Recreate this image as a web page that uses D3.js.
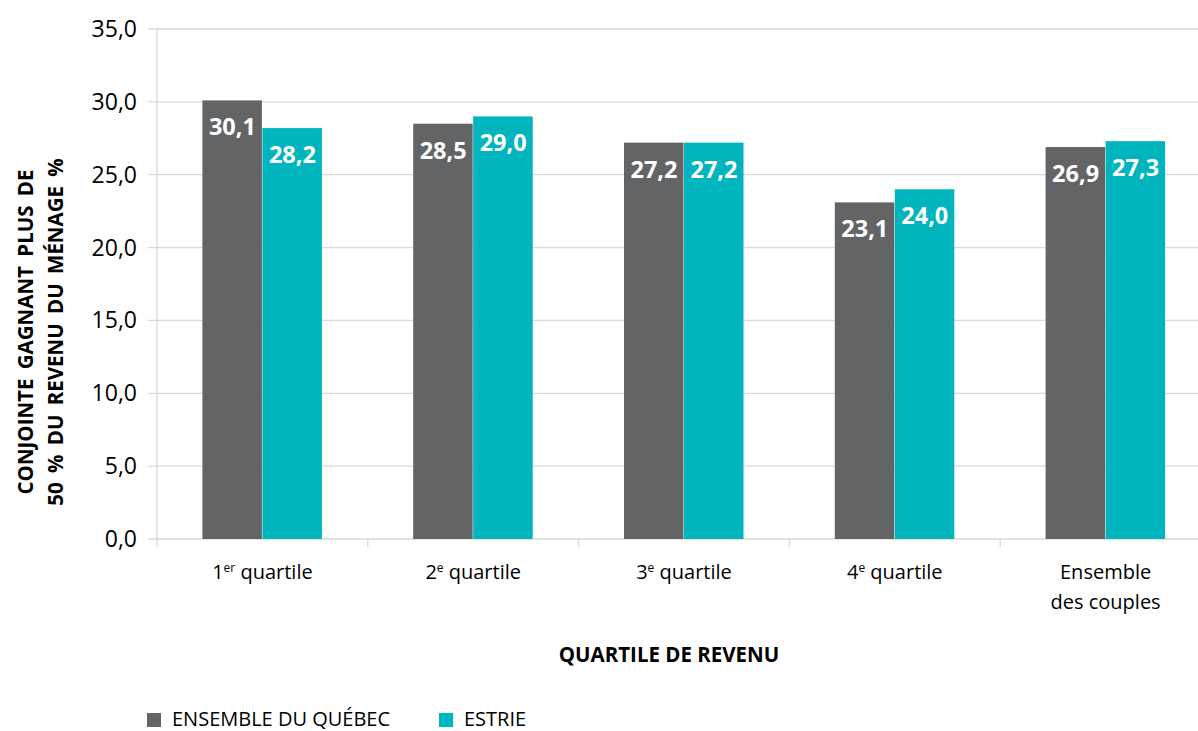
<!DOCTYPE html>
<html>
<head>
<meta charset="utf-8">
<script src="https://cdn.jsdelivr.net/npm/d3@7"></script>
<style>
  body { margin: 0; background: #fff; }
  svg { display: block; font-family: "Open Sans", "Noto Sans", sans-serif; }
</style>
</head>
<body>
<div id="chart"></div>
<script>
// data
const categories = ["q1", "q2", "q3", "q4", "all"];
const categoryLabels = [
  ["1", "er", " quartile"],
  ["2", "e", " quartile"],
  ["3", "e", " quartile"],
  ["4", "e", " quartile"],
  ["Ensemble", "des couples"]
];
const seriesNames = ["ENSEMBLE DU QUÉBEC", "ESTRIE"];
const quebecValues = [30.1, 28.5, 27.2, 23.1, 26.9];
const estrieValues = [28.2, 29.0, 27.2, 24.0, 27.3];
const yTicks = [0, 5, 10, 15, 20, 25, 30, 35];

const colors = ["#636466", "#00b5bd"];

const width = 1198, height = 731;
const margin = { t: 29, l: 157, b: 192 };
const plotW = 1054; // runs past the right edge like the original
const plotH = height - margin.t - margin.b;

const svg = d3.select("#chart").append("svg")
  .attr("width", width).attr("height", height);

const g = svg.append("g").attr("transform", `translate(${margin.l},${margin.t})`);

const x = d3.scaleBand().domain(categories).range([0, plotW]);
const x1 = d3.scaleBand().domain([0, 1]).range([0, 120]);
const y = d3.scaleLinear().domain([0, 35]).range([plotH, 0]);

const fmt = v => d3.format(".1f")(v).replace(".", ",");

// gridlines
g.selectAll(".grid").data(yTicks).join("line")
  .attr("x1", -9).attr("x2", width)
  .attr("y1", d => y(d)).attr("y2", d => y(d))
  .attr("stroke", "#d9d9d9").attr("stroke-width", 1.3);

// y axis line + category ticks
g.append("line").attr("x1", 0).attr("x2", 0).attr("y1", 0).attr("y2", plotH + 8)
  .attr("stroke", "#d9d9d9").attr("stroke-width", 1.3);
g.selectAll(".xtick").data(categories.slice(1)).join("line")
  .attr("x1", d => x(d)).attr("x2", d => x(d))
  .attr("y1", plotH).attr("y2", plotH + 8)
  .attr("stroke", "#d9d9d9").attr("stroke-width", 1.3);

// y tick labels
g.selectAll(".ylab").data(yTicks).join("text")
  .attr("x", -20).attr("y", d => y(d)).attr("dy", "0.35em")
  .attr("text-anchor", "end").attr("font-size", 23).attr("fill", "#000")
  .text(fmt);

// bars
const series = [quebecValues, estrieValues];
categories.forEach((c, i) => {
  const gx = x(c) + x.bandwidth() / 2 - 60;
  series.forEach((vals, s) => {
    const bx = gx + x1(s);
    g.append("rect")
      .attr("x", bx).attr("y", y(vals[i]))
      .attr("width", x1.bandwidth() - 0.5).attr("height", plotH - y(vals[i]))
      .attr("fill", colors[s]);
    g.append("text")
      .attr("x", bx + x1.bandwidth() / 2).attr("y", y(vals[i]) + 35)
      .attr("text-anchor", "middle").attr("font-size", 23.5).attr("font-weight", "bold")
      .attr("fill", "#fff")
      .text(fmt(vals[i]));
  });
});

// category labels
categories.forEach((c, i) => {
  const cx = x(c) + x.bandwidth() / 2;
  const parts = categoryLabels[i];
  if (c === "all") {
    const t = g.append("text").attr("text-anchor", "middle").attr("font-size", 20).attr("fill", "#000");
    t.append("tspan").attr("x", cx).attr("y", plotH + 40).text(parts[0]);
    t.append("tspan").attr("x", cx).attr("y", plotH + 70).text(parts[1]);
  } else {
    const t = g.append("text").attr("x", cx).attr("y", plotH + 40)
      .attr("text-anchor", "middle").attr("font-size", 20).attr("fill", "#000");
    t.append("tspan").text(parts[0]);
    t.append("tspan").attr("font-size", 12).attr("dy", -7).text(parts[1]);
    t.append("tspan").attr("dy", 7).text(parts[2]);
  }
});

// axis titles
svg.append("text").attr("x", 669).attr("y", 662)
  .attr("text-anchor", "middle").attr("font-size", 20.5).attr("font-weight", "bold")
  .text("QUARTILE DE REVENU");

const yt = svg.append("text").attr("transform", "translate(0,332) rotate(-90)")
  .attr("text-anchor", "middle").attr("font-size", 20.5).attr("font-weight", "bold")
  .attr("word-spacing", 4);
yt.append("tspan").attr("x", 0).attr("y", 33).text("CONJOINTE GAGNANT PLUS DE");
yt.append("tspan").attr("x", 0).attr("y", 63).text("50 % DU REVENU DU MÉNAGE %");

// legend
const legendX = [147, 439];
seriesNames.forEach((n, s) => {
  svg.append("rect").attr("x", legendX[s]).attr("y", 713).attr("width", 14).attr("height", 14)
    .attr("fill", colors[s]);
  svg.append("text").attr("x", legendX[s] + 25).attr("y", 726)
    .attr("font-size", 20).attr("fill", "#000").text(n);
});
</script>
</body>
</html>
